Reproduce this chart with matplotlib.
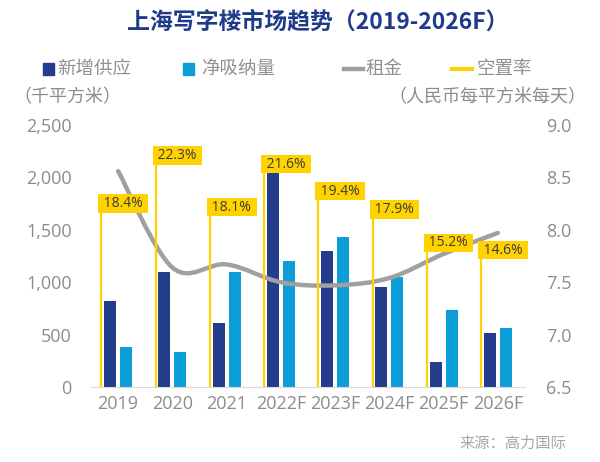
import numpy as np
import matplotlib
matplotlib.use("Agg")
import matplotlib.pyplot as plt
from matplotlib.path import Path
from matplotlib.patches import PathPatch, Rectangle
from matplotlib.lines import Line2D

plt.rcParams["font.family"] = ["Open Sans", "Noto Sans CJK SC", "DejaVu Sans"]

# data
years = ["2019", "2020", "2021", "2022F", "2023F", "2024F", "2025F", "2026F"]
new_supply = [820, 1095, 610, 2215, 1295, 950, 240, 520]        # 千平方米
net_absorption = [380, 335, 1095, 1200, 1430, 1045, 735, 560]   # 千平方米
rent = [8.56, 7.64, 7.67, 7.50, 7.47, 7.54, 7.77, 7.97]         # 人民币/平方米/天
vacancy = [18.4, 22.3, 18.1, 21.6, 19.4, 17.9, 15.2, 14.6]      # %

c_dark = "#233C8C"
c_light = "#0B9ED9"
c_gray = "#A0A0A0"
c_yellow = "#FFD200"
c_text = "#8C8C8C"

W, H = 600, 462
x = np.arange(len(years))

fig = plt.figure(figsize=(6, 4.62), dpi=100)
ax = fig.add_axes([91 / W, 1 - 387 / H, 434 / W, 262 / H])

# ---- bars (left axis) ----
w = 0.22
ax.bar(x - 0.147, new_supply, w, color=c_dark, zorder=2)
ax.bar(x + 0.147, net_absorption, w, color=c_light, zorder=2)
ax.set_xlim(-0.5, 7.5)
ax.set_ylim(0, 2500)
ax.set_yticks([0, 500, 1000, 1500, 2000, 2500])
ax.set_yticklabels(["0", "500", "1,000", "1,500", "2,000", "2,500"])
ax.set_xticks(x)
ax.set_xticklabels(years)
ax.tick_params(axis="y", length=0, pad=14, labelsize=13, labelcolor=c_text)
ax.tick_params(axis="x", length=0, pad=6, labelsize=13, labelcolor=c_text)
for s in ["top", "left", "right"]:
    ax.spines[s].set_visible(False)
ax.spines["bottom"].set_color("#D9D9D9")

# ---- rent, smoothed line (right axis) ----
ax2 = ax.twinx()
ax2.set_ylim(6.5, 9.0)
ax2.set_yticks([6.5, 7.0, 7.5, 8.0, 8.5, 9.0])
ax2.set_yticklabels(["6.5", "7.0", "7.5", "8.0", "8.5", "9.0"])
ax2.tick_params(axis="y", length=0, pad=15, labelsize=13, labelcolor=c_text)
for s in ax2.spines.values():
    s.set_visible(False)

n = len(x)
verts = [(x[0], rent[0])]
codes = [Path.MOVETO]
for i in range(n - 1):
    a = max(i - 1, 0)
    b = min(i + 2, n - 1)
    c1 = (x[i] + (x[i + 1] - x[a]) / 6, rent[i] + (rent[i + 1] - rent[a]) / 6)
    c2 = (x[i + 1] - (x[b] - x[i]) / 6, rent[i + 1] - (rent[b] - rent[i]) / 6)
    verts += [c1, c2, (x[i + 1], rent[i + 1])]
    codes += [Path.CURVE4] * 3
ax2.add_patch(PathPatch(Path(verts, codes), facecolor="none", edgecolor=c_gray,
                        lw=3.2, capstyle="round", zorder=3))

# ---- vacancy rate (hidden third axis) ----
ax3 = ax.twinx()
vac_lo, vac_hi = 4.2, 25.5
ax3.set_ylim(vac_lo, vac_hi)
ax3.axis("off")
ax3.vlines(x - 0.31, vac_lo, vacancy, color=c_yellow, lw=1.6, zorder=2)
for xi, v in zip(x, vacancy):
    ax3.annotate(f" {v:.1f}% ", (xi - 0.31, v), xytext=(-1, 1), textcoords="offset points",
                 ha="left", va="bottom", fontsize=10, color="#3C3C3C",
                 bbox=dict(boxstyle="square,pad=0.12", fc=c_yellow, ec="none"), zorder=5)

# ---- title ----
fig.text(318 / W, 1 - 22 / H, "上海写字楼市场趋势（2019-2026F）", ha="center", va="center",
         fontsize=16.5, fontweight="bold", color="#1F3A8A",
         family=["Noto Sans CJK SC", "DejaVu Sans"])

# ---- legend row (placed by hand, like the original) ----
ly = 1 - 69 / H
fig.add_artist(Rectangle((43 / W, ly - 5.5 / H), 11 / W, 11 / H, color=c_dark,
                         transform=fig.transFigure))
fig.add_artist(Rectangle((183 / W, ly - 5.5 / H), 11 / W, 11 / H, color=c_light,
                         transform=fig.transFigure))
fig.add_artist(Line2D([344 / W, 363 / W], [ly, ly], color=c_gray, lw=3.2,
                      transform=fig.transFigure))
fig.add_artist(Line2D([452 / W, 472 / W], [ly, ly], color=c_yellow, lw=3,
                      transform=fig.transFigure))
for lx, lab in [(57, "新增供应"), (201, "净吸纳量"), (366, "租金"), (477, "空置率")]:
    fig.text(lx / W, ly, lab, ha="left", va="center", fontsize=13.3, color="#909090",
             family=["Noto Sans CJK SC"])

# ---- units and source ----
fig.text(67 / W, 1 - 97 / H, "（千平方米）", ha="center", va="center",
         fontsize=13, color=c_text, family=["Noto Sans CJK SC"])
fig.text(487 / W, 1 - 97 / H, "（人民币每平方米每天）", ha="center", va="center",
         fontsize=13, color=c_text, family=["Noto Sans CJK SC"])
fig.text(566 / W, 1 - 443 / H, "来源：高力国际", ha="right", va="center",
         fontsize=11, color="#A6A6A6", family=["Noto Sans CJK SC"])

fig.savefig("out.png", dpi=100)
plt.close(fig)
